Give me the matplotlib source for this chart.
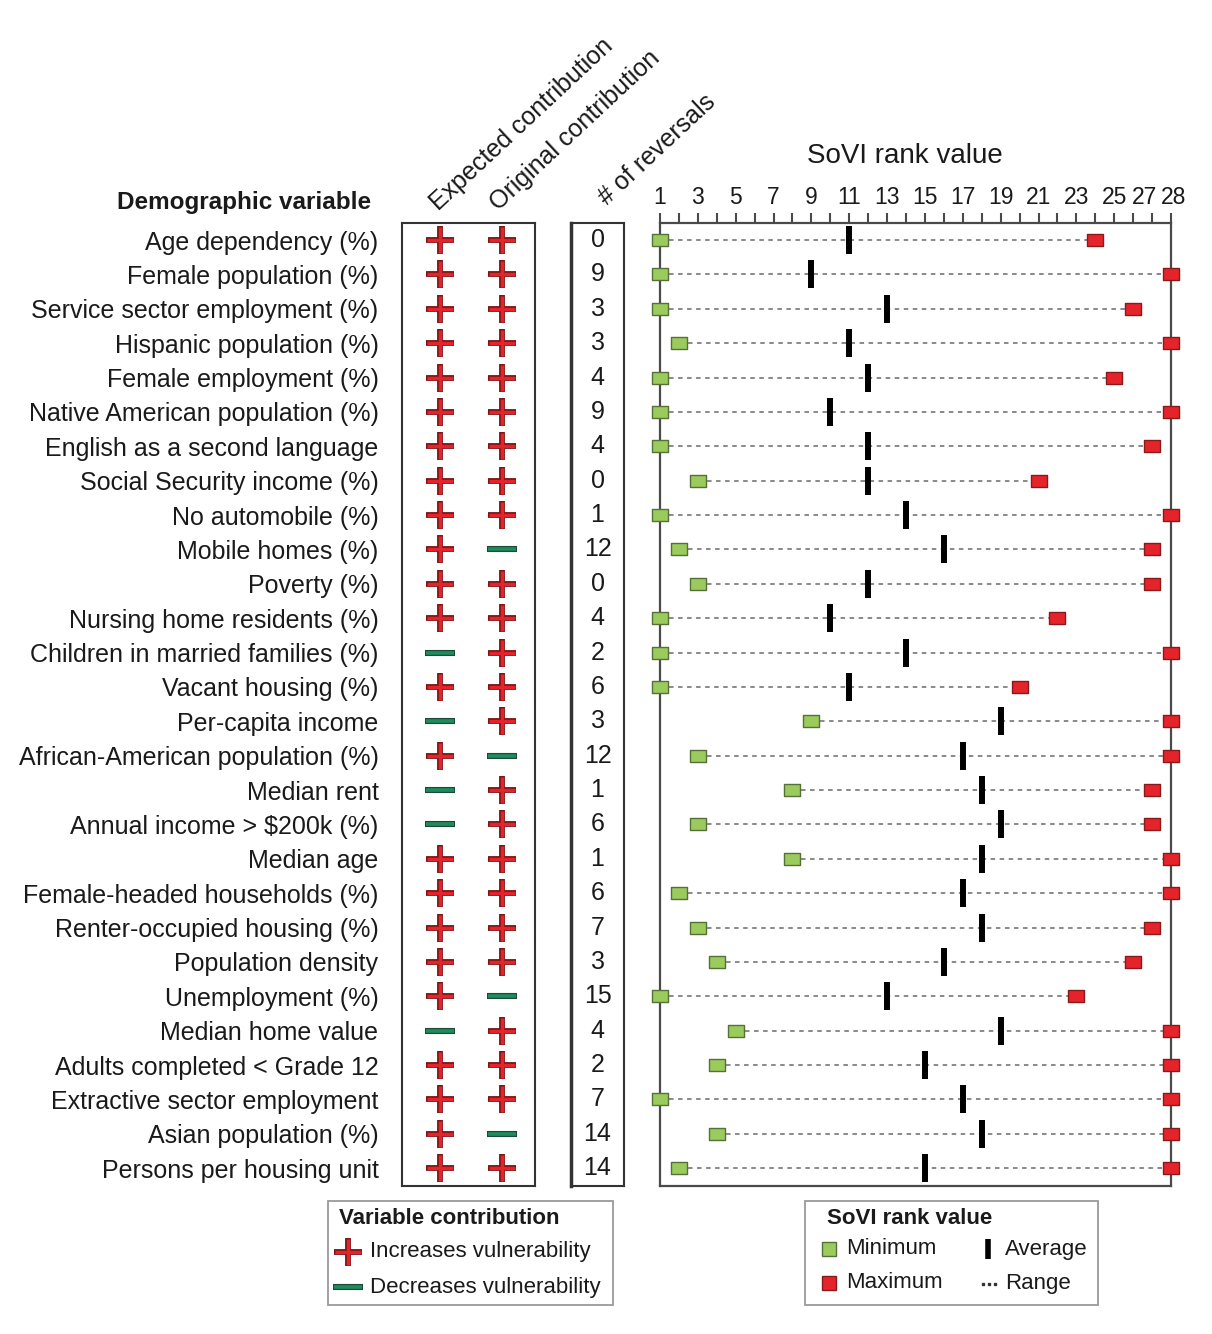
import matplotlib
matplotlib.use("Agg")
import matplotlib.pyplot as plt
import matplotlib.patches as mpatches
import matplotlib.transforms as mtransforms
from matplotlib.path import Path

plt.rcParams["font.family"] = ["Liberation Sans", "DejaVu Sans"]

# ----------------------------
# data
# ----------------------------
variables = [
    "Age dependency (%)", "Female population (%)", "Service sector employment (%)",
    "Hispanic population (%)", "Female employment (%)", "Native American population (%)",
    "English as a second language", "Social Security income (%)", "No automobile (%)",
    "Mobile homes (%)", "Poverty (%)", "Nursing home residents (%)",
    "Children in married families (%)", "Vacant housing (%)", "Per-capita income",
    "African-American population (%)", "Median rent", "Annual income > $200k (%)",
    "Median age", "Female-headed households (%)", "Renter-occupied housing (%)",
    "Population density", "Unemployment (%)", "Median home value",
    "Adults completed < Grade 12", "Extractive sector employment",
    "Asian population (%)", "Persons per housing unit",
]
expected = ["+", "+", "+", "+", "+", "+", "+", "+", "+", "+", "+", "+", "-", "+",
            "-", "+", "-", "-", "+", "+", "+", "+", "+", "-", "+", "+", "+", "+"]
original = ["+", "+", "+", "+", "+", "+", "+", "+", "+", "-", "+", "+", "+", "+",
            "+", "-", "+", "+", "+", "+", "+", "+", "-", "+", "+", "+", "-", "+"]
reversals = [0, 9, 3, 3, 4, 9, 4, 0, 1, 12, 0, 4, 2, 6, 3, 12, 1, 6, 1, 6, 7, 3,
             15, 4, 2, 7, 14, 14]
sovi_min = [1, 1, 1, 2, 1, 1, 1, 3, 1, 2, 3, 1, 1, 1, 9, 3, 8, 3, 8, 2, 3, 4,
            1, 5, 4, 1, 4, 2]
sovi_avg = [11, 9, 13, 11, 12, 10, 12, 12, 14, 16, 12, 10, 14, 11, 19, 17, 18, 19,
            18, 17, 18, 16, 13, 19, 15, 17, 18, 15]
sovi_max = [24, 28, 26, 28, 25, 28, 27, 21, 28, 27, 27, 22, 28, 20, 28, 28, 27, 27,
            28, 28, 27, 26, 23, 28, 28, 28, 28, 28]
rank_ticks = list(range(1, 29))
rank_labels = ["1", "3", "5", "7", "9", "11", "13", "15", "17", "19", "21", "23",
               "25", "27", "28"]

# ----------------------------
# layout helpers (pixels)
# ----------------------------
W, H = 1212, 1334
TOP, BOT = 223, 1186
rows = list(range(len(variables)))
ylims = (27.52, -0.495)

RED, RED_DARK = "#e5232b", "#7a1616"
TEAL, TEAL_DARK = "#1e8c5e", "#1d4a38"
GREEN, GREEN_EDGE = "#9bcb5c", "#56703a"
BOXC = "#333333"
TXT = "#1a1a1a"


def rect(x0, y0, x1, y1):
    return [x0 / W, 1 - y1 / H, (x1 - x0) / W, (y1 - y0) / H]


def fx(x):
    return x / W


def fy(y):
    return 1 - y / H


rect_marker = Path([(-1, -0.75), (1, -0.75), (1, 0.75), (-1, 0.75), (-1, -0.75)],
                   [Path.MOVETO, Path.LINETO, Path.LINETO, Path.LINETO, Path.CLOSEPOLY])


def draw_sign(ax, xs, ys, sign):
    xs = list(xs)
    ys = list(ys)
    if not xs:
        return
    if sign == "+":
        ax.plot(xs, ys, ls="none", marker="+", ms=20, mew=4.2, color=RED_DARK,
                clip_on=False, zorder=4)
        ax.plot(xs, ys, ls="none", marker="+", ms=18.6, mew=2.4, color=RED,
                clip_on=False, zorder=5)
    else:
        ax.plot(xs, ys, ls="none", marker="_", ms=21, mew=4.4, color=TEAL_DARK,
                clip_on=False, zorder=4)
        ax.plot(xs, ys, ls="none", marker="_", ms=19.6, mew=2.6, color=TEAL,
                clip_on=False, zorder=5)


fig = plt.figure(figsize=(W / 100, H / 100), dpi=100)
fig.patch.set_facecolor("white")

# overlay axes in pixel units for legends
lg = fig.add_axes([0, 0, 1, 1])
lg.set_xlim(0, W)
lg.set_ylim(H, 0)
lg.axis("off")
lg.patch.set_alpha(0)

# ----------------------------
# contribution table
# ----------------------------
ax_c = fig.add_axes(rect(402, TOP, 535, BOT))
ax_c.set_xlim(-0.613, 1.532)
ax_c.set_ylim(*ylims)
for s in ax_c.spines.values():
    s.set_linewidth(1.5)
    s.set_color(BOXC)
ax_c.set_xticks([])
ax_c.set_yticks(rows)
ax_c.set_yticklabels(variables, fontsize=18, color=TXT)
ax_c.tick_params(axis="y", length=0, pad=17)
for col, signs in enumerate([expected, original]):
    for sg in "+-":
        ys = [r for r, v in zip(rows, signs) if v == sg]
        draw_sign(ax_c, [col] * len(ys), ys, sg)

# ----------------------------
# reversals column
# ----------------------------
ax_r = fig.add_axes(rect(571, TOP, 624, BOT))
ax_r.set_xlim(0, 1)
ax_r.set_ylim(*ylims)
ax_r.set_xticks([])
ax_r.set_yticks([])
for s in ax_r.spines.values():
    s.set_linewidth(1.5)
    s.set_color(BOXC)
ax_r.spines["left"].set_linewidth(2.5)
for r, n in zip(rows, reversals):
    ax_r.text(0.5, r, str(n), ha="center", va="center", fontsize=18, color=TXT)

# ----------------------------
# SoVI rank plot
# ----------------------------
ax = fig.add_axes(rect(660, TOP, 1171, BOT))
ax.set_xlim(1, 28)
ax.set_ylim(*ylims)
ax.set_yticks([])
for s in ax.spines.values():
    s.set_linewidth(1.6)
    s.set_color("#4a4a4a")
ax.xaxis.tick_top()
ax.set_xticks(rank_ticks)
ax.set_xticklabels([str(v) if str(v) in rank_labels else "" for v in rank_ticks],
                   fontsize=16.5, color=TXT)
ax.tick_params(axis="x", length=7, width=1.5, color="#4a4a4a", pad=3)
for lab in ax.get_xticklabels():
    if lab.get_text() == "27":
        lab.set_transform(lab.get_transform() +
                          mtransforms.ScaledTranslation(-8 / 100, 0, fig.dpi_scale_trans))
    if lab.get_text() == "28":
        lab.set_transform(lab.get_transform() +
                          mtransforms.ScaledTranslation(3 / 100, 0, fig.dpi_scale_trans))

ax.hlines(rows, sovi_min, sovi_max, colors="#808080", linestyles=(0, (2.5, 2.5)),
          linewidth=1.3, zorder=2)
ax.plot(sovi_avg, rows, ls="none", marker="|", ms=20, mew=4.3, color="black",
        zorder=4)
ax.plot(sovi_min, rows, ls="none", marker=rect_marker, ms=12.2, mfc=GREEN,
        mec=GREEN_EDGE, mew=1.0, clip_on=False, zorder=5)
ax.plot(sovi_max, rows, ls="none", marker=rect_marker, ms=12.2, mfc=RED,
        mec="#8a1a1a", mew=1.0, clip_on=False, zorder=5)

# ----------------------------
# headers
# ----------------------------
fig.text(fx(371), fy(203), "Demographic variable", ha="right", va="center",
         fontsize=17.5, fontweight="bold", color=TXT)
for x0, y0, txt in [(439, 211, "Expected contribution"),
                    (499, 211, "Original contribution"),
                    (607, 206, "# of reversals")]:
    fig.text(fx(x0), fy(y0), txt, rotation=43, rotation_mode="anchor",
             ha="left", va="baseline", fontsize=18, color=TXT)
fig.text(fx(905), fy(156), "SoVI rank value", ha="center", va="center",
         fontsize=20, color=TXT)

# ----------------------------
# legends
# ----------------------------
lg.add_patch(mpatches.Rectangle((328, 1201), 285, 104, fill=False,
                                edgecolor="#9a9a9a", linewidth=1.3))
lg.text(339, 1219, "Variable contribution", ha="left", va="center",
        fontsize=16, fontweight="bold", color=TXT)
draw_sign(lg, [348], [1252], "+")
lg.text(370, 1252, "Increases vulnerability", ha="left", va="center",
        fontsize=16, color=TXT)
draw_sign(lg, [348], [1287], "-")
lg.text(370, 1287, "Decreases vulnerability", ha="left", va="center",
        fontsize=16, color=TXT)

lg.add_patch(mpatches.Rectangle((805, 1201), 293, 104, fill=False,
                                edgecolor="#9a9a9a", linewidth=1.3))
lg.text(827, 1219, "SoVI rank value", ha="left", va="center",
        fontsize=16, fontweight="bold", color=TXT)
lg.plot([829], [1249], ls="none", marker="s", ms=10, mfc=GREEN, mec=GREEN_EDGE, mew=1)
lg.text(846, 1249, "Minimum", ha="left", va="center", fontsize=16, color=TXT)
lg.plot([829], [1283], ls="none", marker="s", ms=10, mfc=RED, mec="#8a1a1a", mew=1)
lg.text(846, 1283, "Maximum", ha="left", va="center", fontsize=16, color=TXT)
lg.plot([988], [1249], ls="none", marker="|", ms=15, mew=4, color="black")
lg.text(1005, 1249, "Average", ha="left", va="center", fontsize=16, color=TXT)
lg.plot([983, 989, 995], [1284, 1284, 1284], ls="none", marker="s", ms=2,
        color="#333333")
lg.text(1005, 1283, "Range", ha="left", va="center", fontsize=16, color=TXT)

fig.savefig("out.png", dpi=100, facecolor="white")
